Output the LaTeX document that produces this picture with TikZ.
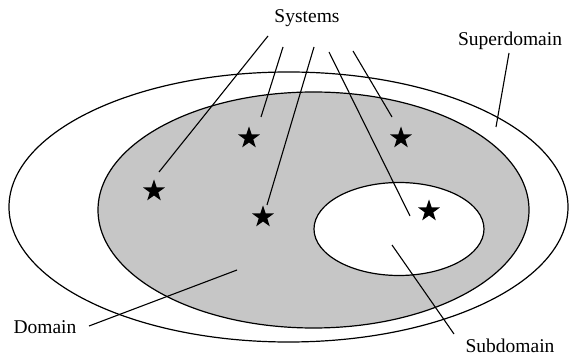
\documentclass[tikz,border=0pt]{standalone}
\usepackage{fontspec}
\setmainfont{Liberation Serif}
\usetikzlibrary{shapes.geometric}
\begin{document}
\begin{tikzpicture}[x=1pt,y=-1pt,
  region/.style={draw=black,line width=1.2pt},
  pointer/.style={draw=black,line width=1.1pt},
  starmark/.style={star,star points=5,star point ratio=2.55,fill=black,draw=none,minimum size=23pt,inner sep=0pt},
  lbl/.style={font=\fontsize{19.5}{22}\selectfont,inner sep=0pt,anchor=base}]
\useasboundingbox (0,0) rectangle (570,355);
% regions
\draw[region] (288.5,207) ellipse [x radius=279.5, y radius=135];
\draw[region,fill=gray!45] (313.5,210) ellipse [x radius=215.5, y radius=118];
\draw[region,fill=white] (399,229) ellipse [x radius=85, y radius=46.5];
% stars
\node[starmark] (s1) at (154,191) {};
\node[starmark] (s2) at (249,138) {};
\node[starmark] (s3) at (401,138) {};
\node[starmark] (s4) at (263,217) {};
\node[starmark] (s5) at (429,211) {};
% labels
\node[lbl] (sys) at (307,23) {Systems};
\node[lbl] (sup) at (510,46) {Superdomain};
\node[lbl] (dom) at (45,333) {Domain};
\node[lbl] (sub) at (510,352) {Subdomain};
% pointer coordinates
\coordinate (a1) at (268,36);  \coordinate (b1) at (159,172);
\coordinate (a2) at (283,47);  \coordinate (b2) at (261,117);
\coordinate (a3) at (314,47);  \coordinate (b3) at (267,205);
\coordinate (a4) at (329,52);  \coordinate (b4) at (410,216);
\coordinate (a5) at (353,51);  \coordinate (b5) at (392,117);
\coordinate (c1) at (509,53);  \coordinate (d1) at (496,127);
\coordinate (c2) at (89,326);  \coordinate (d2) at (237,270);
\coordinate (c3) at (454,334); \coordinate (d3) at (392,245);
\draw[pointer] (a1) -- (b1);
\draw[pointer] (a2) -- (b2);
\draw[pointer] (a3) -- (b3);
\draw[pointer] (a4) -- (b4);
\draw[pointer] (a5) -- (b5);
\draw[pointer] (c1) -- (d1);
\draw[pointer] (c2) -- (d2);
\draw[pointer] (c3) -- (d3);
\end{tikzpicture}
\end{document}
